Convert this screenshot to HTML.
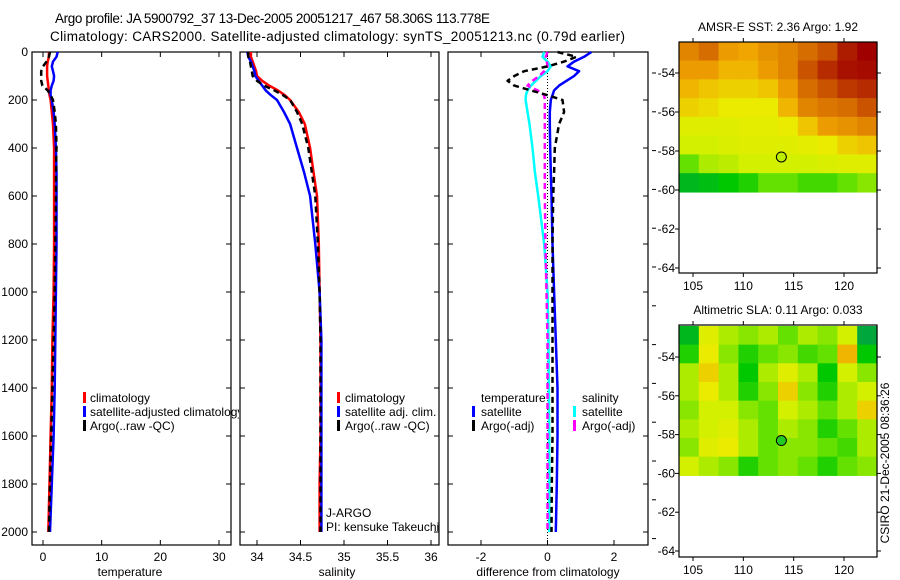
<!DOCTYPE html>
<html><head><meta charset="utf-8"><style>
html,body{margin:0;padding:0;background:#fff;}
svg{display:block;font-family:"Liberation Sans",sans-serif;}
</style></head><body>
<svg id="fig" width="900" height="580" viewBox="0 0 900 580">
<rect x="0" y="0" width="900" height="580" fill="#fff"/>
<text x="55" y="23" font-size="13.5" textLength="435">Argo profile: JA 5900792_37 13-Dec-2005 20051217_467 58.306S 113.778E</text>
<text x="50" y="41" font-size="13.5" textLength="575">Climatology: CARS2000. Satellite-adjusted climatology: synTS_20051213.nc (0.79d earlier)</text>
<g id="plots"></g>
</svg>
<script>
// ---------- data ----------
const depths = [0,20,40,60,80,100,120,140,160,180,200,250,300,400,500,600,800,1000,1200,1400,1600,1800,2000];
const tempArgo = [1.2,1.0,0.6,0.0,-0.3,-0.3,-0.3,-0.1,0.8,1.3,1.7,2.0,2.2,2.3,2.2,2.2,2.1,2.0,1.8,1.6,1.4,1.2,1.0];
const tempClim = [1.0,1.0,0.8,0.7,0.7,0.7,0.8,0.9,1.0,1.1,1.3,1.5,1.7,1.9,1.9,1.9,1.9,1.8,1.6,1.5,1.3,1.1,0.9];
const tempSat = [2.5,2.3,1.7,1.5,1.7,1.9,1.8,1.5,1.3,1.3,1.5,1.8,2.0,2.2,2.3,2.3,2.3,2.2,2.1,2.0,1.8,1.5,1.2];
const salArgo = [33.9,33.9,33.92,33.93,33.94,33.95,34.0,34.08,34.2,34.3,34.38,34.46,34.52,34.59,34.63,34.67,34.7,34.72,34.73,34.73,34.73,34.73,34.73];
const salClim = [33.93,33.93,33.95,33.97,33.99,34.0,34.06,34.14,34.24,34.32,34.38,34.48,34.55,34.61,34.65,34.69,34.71,34.72,34.73,34.73,34.73,34.72,34.72];
const salSat = [33.89,33.9,33.93,33.95,33.97,33.98,34.02,34.06,34.1,34.16,34.23,34.31,34.38,34.46,34.54,34.61,34.67,34.72,34.74,34.74,34.74,34.74,34.74];
const diffSatT = [1.32,1.1,0.8,0.6,0.95,0.8,0.57,0.35,0.2,0.15,0.1,0.07,0.07,0.08,0.1,0.12,0.15,0.2,0.25,0.3,0.3,0.28,0.25];
const diffArgoT = [0.3,0.87,0.5,0.0,-0.7,-1.0,-1.2,-1.0,-0.5,0.0,0.45,0.5,0.35,0.22,0.2,0.17,0.15,0.15,0.15,0.15,0.15,0.13,0.12];
const diffSatS = [-0.1,-0.15,0.0,0.1,0.0,-0.2,-0.35,-0.5,-0.6,-0.65,-0.66,-0.6,-0.54,-0.45,-0.38,-0.28,-0.1,0.0,0.03,0.04,0.05,0.05,0.05];
const diffArgoS = [0.0,-0.05,-0.02,0.0,-0.1,-0.25,-0.45,-0.6,-0.3,-0.1,-0.08,-0.08,-0.08,-0.08,-0.08,-0.08,-0.06,-0.03,0.0,0.0,0.0,0.0,0.0];
const depthTicks = [0,200,400,600,800,1000,1200,1400,1600,1800,2000];
const tempTicks = [0,10,20,30];
const salTicks = [34,34.5,35,35.5,36];
const salTickLabels = ["34","34.5","35","35.5","36"];
const diffTicks = [-2,0,2];
const latTicks = [-54,-56,-58,-60,-62,-64];
const lonTicks = [105,110,115,120];
const sstGrid = [
 [.75,.8,.7,.68,.72,.75,.8,.85,.95,1.0],
 [.7,.7,.65,.65,.7,.75,.85,.92,.97,.98],
 [.65,.62,.6,.6,.62,.7,.8,.85,.9,.92],
 [.6,.58,.55,.55,.55,.65,.75,.78,.8,.85],
 [.5,.5,.5,.52,.52,.55,.62,.7,.72,.75],
 [.45,.45,.48,.5,.5,.5,.52,.55,.6,.62],
 [.3,.4,.42,.45,.45,.45,.45,.48,.5,.5],
 [.1,.12,.15,.2,.3,.3,.25,.25,.3,.35]];
const slaGrid = [
 [.1,.5,.4,.35,.4,.3,.4,.35,.45,.05],
 [.2,.55,.35,.2,.3,.35,.25,.3,.65,.15],
 [.4,.6,.4,.15,.4,.5,.4,.15,.45,.35],
 [.4,.55,.4,.2,.35,.6,.35,.2,.4,.45],
 [.35,.45,.45,.35,.3,.45,.4,.3,.4,.6],
 [.4,.45,.5,.4,.3,.4,.35,.2,.3,.4],
 [.35,.5,.55,.4,.3,.35,.35,.3,.25,.4],
 [.45,.4,.35,.2,.3,.35,.3,.2,.3,.35]];
const argoLon = 113.778, argoLat = -58.306;

// ---------- helpers ----------
const NS="http://www.w3.org/2000/svg";
const root=document.getElementById('plots');
function mk(tag,attrs,parent){const e=document.createElementNS(NS,tag);for(const k in attrs)e.setAttribute(k,attrs[k]);(parent||root).appendChild(e);return e;}
const yTop=52, pxPerM=0.24;
const yD = d => yTop + d*pxPerM;
const panelBottom=545;
function lin(v0,p0,v1,p1){return v=>p0+(v-v0)*(p1-p0)/(v1-v0);}
const xT = lin(0,43,30,219);
const xS = lin(34,257,36,431);
const xDf = lin(-2,481,2,614);

function frame(x0,x1,y0,y1,name){
  const r=mk('rect',{x:x0,y:y0,width:x1-x0,height:y1-y0,fill:'none',stroke:'#000','stroke-width':1.2});
  
  
}
function yTicks(x0,x1,labels){
  depthTicks.forEach(d=>{
    const y=yD(d);
    mk('line',{x1:x0,y1:y,x2:x0+5,y2:y,stroke:'#000'});
    mk('line',{x1:x1,y1:y,x2:x1-5,y2:y,stroke:'#000'});
    if(labels){const t=mk('text',{x:x0-4,y:y+4,'font-size':12,'text-anchor':'end'});t.textContent=d;
      
      }
  });
}
function xTicks(vals,labs,fx,x0,x1,name){
  vals.forEach((v,i)=>{
    const x=fx(v);
    mk('line',{x1:x,y1:panelBottom,x2:x,y2:panelBottom-5,stroke:'#000'});
    mk('line',{x1:x,y1:yTop,x2:x,y2:yTop+5,stroke:'#000'});
    const t=mk('text',{x:x,y:561,'font-size':12,'text-anchor':'middle'});t.textContent=labs[i];
    
    
  });
}
function profile(vals,fx,color,dash,name,w){
  const pts=vals.map((v,i)=>fx(v).toFixed(1)+','+yD(depths[i]).toFixed(1)).join(' ');
  const p=mk('polyline',{points:pts,fill:'none',stroke:color,'stroke-width':w||2.5,'stroke-dasharray':dash||'none','stroke-linejoin':'round'});
  
  
}
function label(x,y,txt,name,size,anchor){
  const t=mk('text',{x:x,y:y,'font-size':size||12,'text-anchor':anchor||'start'});t.textContent=txt;
  
  
  return t;
}
function legMark(x,y,color,name){
  const r=mk('rect',{x:x,y:y-10,width:3,height:11,fill:color});
  
  
}

// ---------- panel 1: temperature ----------
frame(32,231,yTop,panelBottom,'temperature-axes');
yTicks(32,231,true);
xTicks(tempTicks,tempTicks.map(String),xT,32,231,'temperature');
profile(tempClim,xT,'#f00',null,'temperature-climatology-line');
profile(tempSat,xT,'#00f',null,'temperature-satellite-line');
profile(tempArgo,xT,'#000','6,4','temperature-argo-line');
label(130,576,'temperature','x-axis-title-temperature',12,'middle');
legMark(83,402,'#f00','legend-climatology-mark');label(90,402,'climatology','legend-climatology');
legMark(83,416,'#00f','legend-satellite-mark');
const clipR=mk('clipPath',{id:'c1'});mk('rect',{x:0,y:0,width:239,height:580},clipR);
const lt=label(90,416,'satellite-adjusted climatology','legend-satellite-adjusted');lt.setAttribute('clip-path','url(#c1)');
legMark(83,430,'#000','legend-argo-mark');label(90,430,'Argo(..raw -QC)','legend-argo');

// ---------- panel 2: salinity ----------
frame(240,439,yTop,panelBottom,'salinity-axes');
yTicks(240,439,false);
xTicks(salTicks,salTickLabels,xS,240,439,'salinity');
profile(salClim,xS,'#f00',null,'salinity-climatology-line');
profile(salSat,xS,'#00f',null,'salinity-satellite-line');
profile(salArgo,xS,'#000','6,4','salinity-argo-line');
label(337,576,'salinity','x-axis-title-salinity',12,'middle');
legMark(337,402,'#f00','legend2-climatology-mark');label(345,402,'climatology','legend2-climatology');
legMark(337,416,'#00f','legend2-satellite-mark');label(345,416,'satellite adj. clim.','legend2-satellite');
legMark(337,430,'#000','legend2-argo-mark');label(345,430,'Argo(..raw -QC)','legend2-argo');
label(326,517,'J-ARGO','program-label');
label(326,531,'PI: kensuke Takeuchi','pi-label');

// ---------- panel 3: difference ----------
frame(448,648,yTop,panelBottom,'difference-axes');
yTicks(448,648,false);
xTicks(diffTicks,diffTicks.map(String),xDf,448,648,'difference');
const zl=mk('line',{x1:xDf(0),y1:yTop,x2:xDf(0),y2:panelBottom,stroke:'#000','stroke-width':1,'stroke-dasharray':'1,2'});


profile(diffSatS,xDf,'#0ff',null,'diff-salinity-satellite-line');
profile(diffArgoS,xDf,'#f0f','6,4','diff-salinity-argo-line');
profile(diffSatT,xDf,'#00f',null,'diff-temperature-satellite-line');
profile(diffArgoT,xDf,'#000','6,4','diff-temperature-argo-line');
label(548,576,'difference from climatology','x-axis-title-difference',12,'middle');
label(481,402,'temperature','legend3-temperature-header');
legMark(472,416,'#00f','legend3-tsat-mark');label(481,416,'satellite','legend3-tsat');
legMark(472,430,'#000','legend3-targo-mark');label(481,430,'Argo(-adj)','legend3-targo');
label(582,402,'salinity','legend3-salinity-header');
legMark(573,416,'#0ff','legend3-ssat-mark');label(582,416,'satellite','legend3-ssat');
legMark(573,430,'#f0f','legend3-sargo-mark');label(582,430,'Argo(-adj)','legend3-sargo');
for(let i=0;i<13;i++){const y=73+i*38.8;mk('line',{x1:652,y1:y,x2:656,y2:y,stroke:'#000'});}

// ---------- maps ----------
const mx0=679,mx1=877;
const xLon=lin(105,693,120,844);
function cmap(v){
  const stops=[[0,[0,150,90]],[0.15,[0,200,0]],[0.3,[100,225,0]],[0.45,[210,240,0]],[0.55,[235,235,0]],[0.68,[240,165,0]],[0.82,[210,100,0]],[1,[160,0,0]]];
  v=Math.max(0,Math.min(1,v));
  for(let i=1;i<stops.length;i++){if(v<=stops[i][0]){const a=stops[i-1],b=stops[i],t=(v-a[0])/(b[0]-a[0]);
    const c=a[1].map((x,k)=>Math.round(x+(b[1][k]-x)*t));return 'rgb('+c.join(',')+')';}}
  return 'rgb(160,0,0)';
}
function map(grid,y0,y1,yLat,title,name,dotColor){
  const g=mk('g',{});
  
  
  const rows=grid.length, cols=grid[0].length;
  const latTop=-52.4, latBot=-60.1;
  const cw=(mx1-mx0)/cols, ytop=yLat(latTop), ybot=yLat(latBot), ch=(ybot-ytop)/rows;
  grid.forEach((row,r)=>row.forEach((v,c)=>{
    const cell=mk('rect',{x:(mx0+c*cw).toFixed(2),y:(ytop+r*ch).toFixed(2),width:(cw+0.6).toFixed(2),height:(ch+0.6).toFixed(2),fill:cmap(v)},g);
    
    
  }));
  mk('rect',{x:mx0,y:y0,width:mx1-mx0,height:y1-y0,fill:'none',stroke:'#000','stroke-width':1.2},g);
  latTicks.forEach(l=>{const y=yLat(l);
    mk('line',{x1:mx0,y1:y,x2:mx0-4,y2:y,stroke:'#000'},g);
    mk('line',{x1:mx1,y1:y,x2:mx1+4,y2:y,stroke:'#000'},g);
    const t=label(675,y+4,String(l),'lat-tick-label',12,'end');});
  lonTicks.forEach(l=>{const x=xLon(l);
    mk('line',{x1:x,y1:y1,x2:x,y2:y1+4,stroke:'#000'},g);
    mk('line',{x1:x,y1:y0,x2:x,y2:y0-4,stroke:'#000'},g);
    label(x,y1+17,String(l),'lon-tick-label',12,'middle');});
  label(778,y0-11,title,name+'-title',12,'middle');
  const d=mk('circle',{cx:xLon(argoLon),cy:yLat(argoLat),r:5,fill:dotColor,stroke:'#000','stroke-width':1},g);
  
  
}
map(sstGrid,42,273,lin(-54,73,-64,268),'AMSR-E SST: 2.36 Argo: 1.92','sst-map','#bbee00');
map(slaGrid,325,557,lin(-54,357,-64,551),'Altimetric SLA: 0.11 Argo: 0.033','sla-map','#22cc22');
const cs=label(0,0,'CSIRO 21-Dec-2005 08:36:26','csiro-timestamp',12,'middle');
cs.setAttribute('transform','translate(889,463) rotate(-90)');
</script>
</body></html>
